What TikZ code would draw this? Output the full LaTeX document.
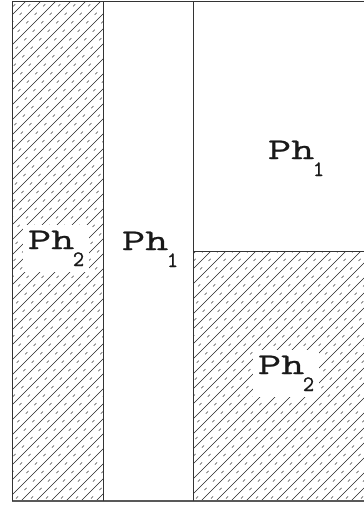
\documentclass[tikz,border=0pt]{standalone}
\usepackage{fontspec}
\usepackage{graphicx}
\newfontfamily\phfont[FakeBold=0.7]{Latin Modern Mono}
\newcommand{\phtxt}[1]{{\fontsize{30}{30}\phfont\selectfont\scalebox{1.5}[1]{Ph}}\kern-1.5pt\raisebox{-17pt}{\fontsize{22}{22}\phfont\selectfont #1}}
\tikzset{
  border/.style={draw=black!80, line width=0.9pt},
  hatchsolid/.style={draw=black!85, line width=0.65pt},
  hatchdash/.style={draw=black!75, line width=0.65pt, dash pattern=on 3pt off 9pt},
  phlabel/.style={fill=white, inner xsep=5pt, inner ysep=6pt, outer sep=0pt, anchor=base west, text=black!90},
}
\begin{document}
\begin{tikzpicture}[x=1pt,y=-1pt]
\useasboundingbox (0,0) rectangle (364,507);
% hatched regions
\begin{scope}
  \clip (12,1) rectangle (103,501);
  \foreach \k in {-510,-495,...,375} {
    \draw[hatchsolid] (\k,507) -- ++(530,-530);
    \draw[hatchdash] (\k+7.5,507) -- ++(530,-530);
  }
\end{scope}
\begin{scope}
  \clip (193,251) rectangle (364,501);
  \foreach \k in {-510,-495,...,375} {
    \draw[hatchsolid] (\k,507) -- ++(530,-530);
    \draw[hatchdash] (\k+7.5,507) -- ++(530,-530);
  }
\end{scope}
% borders
\draw[border] (12,1) -- (365,1);
\draw[border, line width=1.3pt, draw=black!65] (12,501) -- (365,501);
\draw[border] (12,1) -- (12,501);
\draw[border] (103,1) -- (103,501);
\draw[border] (193,1) -- (193,501);
\draw[border] (193,251) -- (365,251);
% labels
\node[phlabel] (l2) at (23,249) {\phtxt{2}};
\node[phlabel] (m1) at (117,250) {\phtxt{1}};
\node[phlabel] (t1) at (263,159) {\phtxt{1}};
\node[phlabel] (b2) at (253,374) {\phtxt{2}};
\end{tikzpicture}
\end{document}
